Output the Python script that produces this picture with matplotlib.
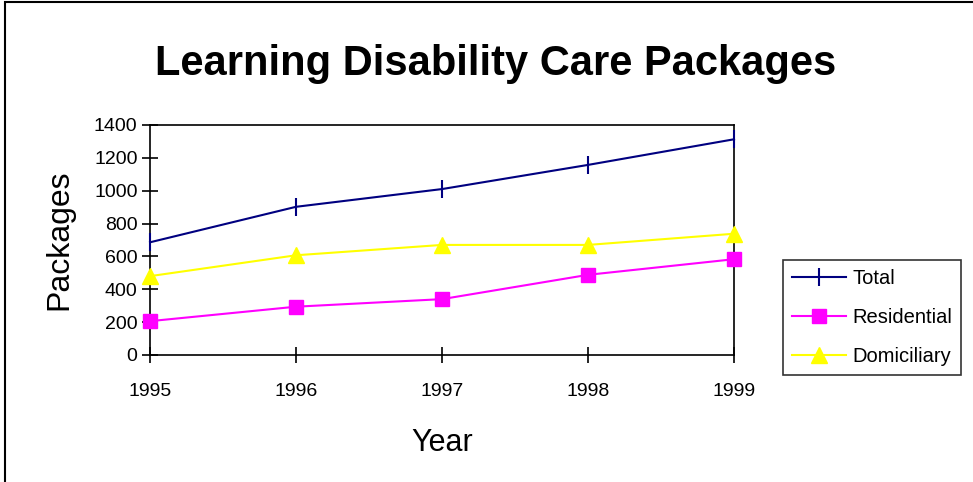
import matplotlib.pyplot as plt
from matplotlib.patches import Rectangle

years = [1995, 1996, 1997, 1998, 1999]
total = [686, 902, 1010, 1157, 1313]
residential = [206, 294, 340, 488, 583]
domiciliary = [480, 607, 670, 670, 738]

plt.rcParams['font.family'] = ['Liberation Sans', 'DejaVu Sans']

fig = plt.figure(figsize=(9.73, 4.82), dpi=100)
ax = fig.add_axes([0.1542, 0.2635, 0.6002, 0.4772])

ax.plot(years, total, color='#000080', lw=1.5, marker='|', ms=13, mew=1.5,
        label='Total', clip_on=False, zorder=3)
ax.plot(years, residential, color='#FF00FF', lw=1.5, marker='s', ms=10,
        label='Residential', clip_on=False, zorder=3)
ax.plot(years, domiciliary, color='#FFFF00', lw=1.5, marker='^', ms=11,
        label='Domiciliary', clip_on=False, zorder=3)

ax.set_xlim(1995, 1999)
ax.set_ylim(0, 1400)
ax.set_xticks(years)
ax.set_yticks(range(0, 1401, 200))
ax.tick_params(axis='x', direction='inout', length=12, width=1.2, pad=14, labelsize=14)
ax.tick_params(axis='y', direction='inout', length=12, width=1.2, pad=3, labelsize=14)
for s in ax.spines.values():
    s.set_linewidth(1.2)

ax.set_xlabel('Year', fontsize=22, labelpad=20)
ax.set_ylabel('Packages', fontsize=23, labelpad=14)
fig.text(0.509, 0.868, 'Learning Disability Care Packages', fontsize=30,
         fontweight='bold', ha='center', va='center')

leg = ax.legend(loc='upper left', bbox_to_anchor=(783 / 973, 1 - 260 / 482),
                bbox_transform=fig.transFigure, fontsize=14.5, frameon=True,
                fancybox=False, handlelength=2.7, borderpad=0.45,
                labelspacing=1.0, handletextpad=0.3, borderaxespad=0)
leg.get_frame().set_edgecolor('black')
leg.get_frame().set_linewidth(1.2)

# outer border of the chart area
fig.patches.append(Rectangle((5 / 973, -0.1), 1.2, 1.1 - 2 / 482, transform=fig.transFigure,
                             fill=False, edgecolor='black', lw=1.5))

fig.savefig('out.png', dpi=100)
